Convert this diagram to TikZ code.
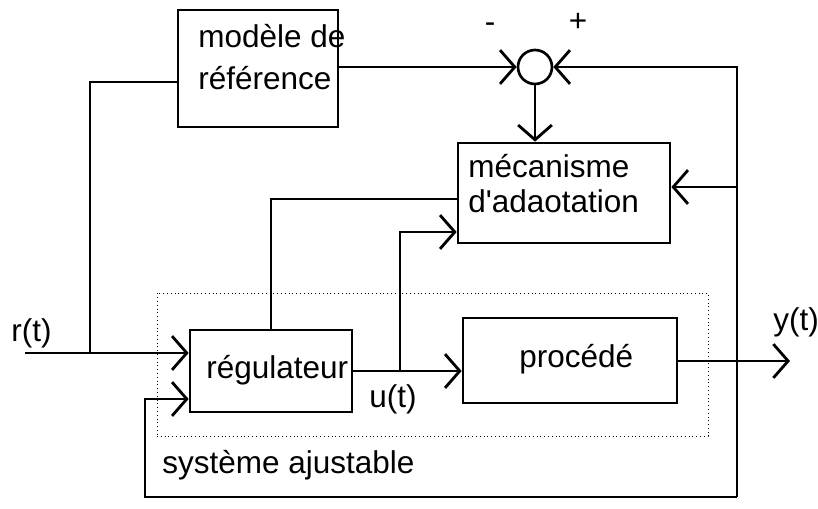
\documentclass[tikz,border=0pt]{standalone}
\usepackage{fontspec}
\setmainfont{Liberation Sans}
\usepackage{tikz}
\usetikzlibrary{arrows.meta}

\begin{document}
\begin{tikzpicture}[x=0.025cm, y=-0.025cm, line width=1.9pt,
	font=\fontsize{22.4}{26}\selectfont,
	>={Straight Barb[length=10.5pt, width=24pt, line width=2pt]},
	bloc/.style={draw, rectangle, inner sep=0pt},
	txt/.style={inner sep=0pt, anchor=base west}]
			\useasboundingbox (0,0) rectangle (818,508);
			% systeme ajustable (cadre pointille)
			\node[draw, dotted, line width=0.7pt, inner sep=0pt, minimum width=551*0.025cm, minimum height=143*0.025cm] (ajust) at (432.5,364.5) {};
			\node[txt] (ajusttxt) at (161,473) {système ajustable};
			% blocs
			\node[bloc, minimum width=160*0.025cm, minimum height=117*0.025cm] (modele) at (258,68.5) {};
			\node[txt] (modtxt1) at (197,47) {modèle de};
			\node[txt] (modtxt2) at (197,89) {référence};
			\node[draw, circle, inner sep=0pt, minimum size=34*0.025cm] (somme) at (535,67) {};
			\node (moins) at (490,28) {-};
			\node (plus) at (578,22) {+};
			\node[bloc, minimum width=212*0.025cm, minimum height=100*0.025cm] (mecanisme) at (564,193) {};
			\node[txt] (mectxt1) at (467,177) {mécanisme};
			\node[txt] (mectxt2) at (467,212) {d\textquotesingle adaotation};
			\node[bloc, minimum width=162*0.025cm, minimum height=82*0.025cm] (regulateur) at (271,371) {};
			\node[txt] (regtxt) at (205,378) {régulateur};
			\node[bloc, minimum width=214*0.025cm, minimum height=85*0.025cm] (procede) at (570,360.5) {};
			\node[txt] (proctxt) at (518,367) {procédé};
			% signaux
			\node[txt] (rt) at (10,341) {r(t)};
			\node[txt] (ut) at (368,407) {u(t)};
			\node[txt] (yt) at (772,330) {y(t)};
			\coordinate (rin) at (25,353);
			\coordinate (jr) at (90,353);
			\coordinate (mref) at (90,82);
			\coordinate (ub) at (400,371);
			\coordinate (umec) at (400,232);
			\coordinate (rmec) at (271,199);
			\coordinate (yout) at (790,361);
			\coordinate (fbtop) at (737,67);
			\coordinate (fbmec) at (737,187);
			\coordinate (fbbot) at (737,497);
			\coordinate (fbleft) at (145,497);
			\coordinate (rin2) at (145,399);
			% liaisons
			\draw[->] (rin) -- (regulateur.west |- rin);
			\draw (jr) -- (mref) -- (mref -| modele.west);
			\draw[->] (modele.east |- somme.west) -- (somme.west);
			\draw[->] (somme.south) -- (somme.south |- mecanisme.north);
			\draw[->] (regulateur.east) -- (procede.west |- regulateur.east);
			\draw[->] (ub) -- (umec) -- (umec -| mecanisme.west);
			\draw (regulateur.north) |- (rmec -| mecanisme.west);
			\draw[->] (procede.east |- yout) -- (yout);
			\draw[->] (fbbot) -- (fbtop) -- (somme.east);
			\draw[->] (fbmec) -- (fbmec -| mecanisme.east);
			\draw[->] (fbbot) -- (fbleft) -- (rin2) -- (regulateur.west |- rin2);
		\end{tikzpicture}
\end{document}
